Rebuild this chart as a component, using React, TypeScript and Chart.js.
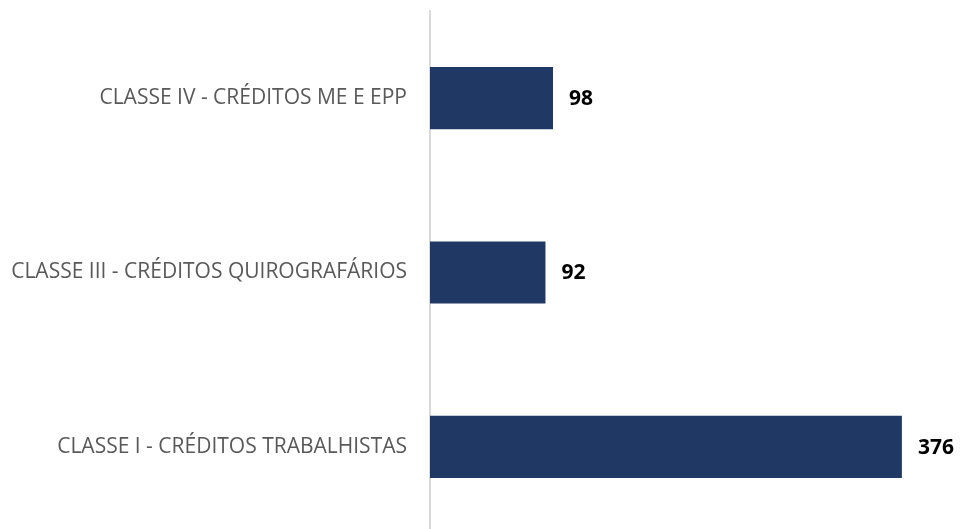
import React, { useEffect, useRef } from "react";
import { Chart, registerables } from "chart.js";

Chart.register(...registerables);

const categories = [
  "CLASSE IV - CRÉDITOS ME E EPP",
  "CLASSE III - CRÉDITOS QUIROGRAFÁRIOS",
  "CLASSE I - CRÉDITOS TRABALHISTAS",
];
const values = [98, 92, 376];

const valueLabels = {
  id: "valueLabels",
  afterDatasetsDraw(chart: any) {
    const ctx = chart.ctx;
    const meta = chart.getDatasetMeta(0);
    ctx.save();
    ctx.font = "bold 21px 'Open Sans', sans-serif";
    ctx.fillStyle = "#000000";
    ctx.textAlign = "left";
    ctx.textBaseline = "middle";
    meta.data.forEach((bar: any, i: number) => {
      ctx.fillText(String(values[i]), bar.x + 16, bar.y + 1);
    });
    ctx.restore();
  },
};

export default function App() {
  const ref = useRef<HTMLCanvasElement>(null);
  useEffect(() => {
    if (!ref.current) return;
    const chart = new Chart(ref.current, {
      type: "bar",
      data: {
        labels: categories,
        datasets: [
          {
            data: values,
            backgroundColor: "#203864",
            borderWidth: 0,
            categoryPercentage: 0.6,
            barPercentage: 0.595,
          },
        ],
      },
      options: {
        indexAxis: "y",
        animation: false,
        responsive: false,
        maintainAspectRatio: false,
        layout: { padding: { top: 11, bottom: 1, right: 29, left: 0 } },
        plugins: { legend: { display: false }, tooltip: { enabled: false } },
        scales: {
          x: { display: false, min: 0, max: 400 },
          y: {
            afterFit: (scale: any) => {
              scale.width = 430;
              scale.paddingTop = 0;
              scale.paddingBottom = 0;
            },
            grid: { display: false, drawTicks: false },
            border: { display: true, color: "#d9d9d9", width: 2 },
            ticks: {
              color: "#595959",
              padding: 23,
              font: { family: "'Open Sans', sans-serif", size: 21 },
            },
          },
        },
      },
      plugins: [valueLabels],
    });
    return () => chart.destroy();
  }, []);
  return (
    <div style={{ position: "absolute", left: 0, top: 0, width: 961, height: 529, overflow: "hidden", background: "#fff" }}>
      <canvas ref={ref} width={961} height={535} style={{ display: "block" }} />
    </div>
  );
}
